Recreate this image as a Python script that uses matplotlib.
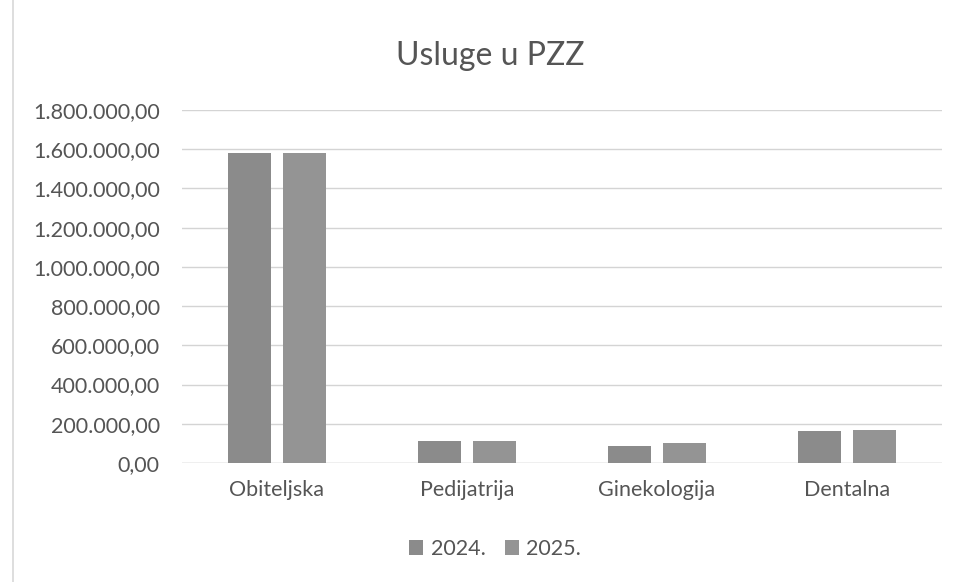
import matplotlib.pyplot as plt
import numpy as np

# Data
categories = ["Obiteljska", "Pedijatrija", "Ginekologija", "Dentalna"]
series_labels = ["2024.", "2025."]
values_2024 = [1580000, 110000, 87000, 165000]
values_2025 = [1580000, 114000, 100000, 170000]
y_ticks = [0, 200000, 400000, 600000, 800000, 1000000, 1200000, 1400000, 1600000, 1800000]

plt.rcParams['font.family'] = ['Lato', 'DejaVu Sans']
txt = '#555555'

fig = plt.figure(figsize=(9.62, 5.82), dpi=100)
ax = fig.add_axes([182 / 962, 1 - 463 / 582, 760 / 962, 353 / 582])

x = np.arange(len(categories))
w = 0.226
ax.bar(x - 0.145, values_2024, w, color='#8b8b8b', label=series_labels[0], zorder=3)
ax.bar(x + 0.145, values_2025, w, color='#949494', label=series_labels[1], zorder=3)

def fmt(v):
    return f"{int(v):,}".replace(",", ".") + ",00"

ax.set_ylim(0, 1800000)
ax.set_xlim(-0.5, 3.5)
ax.set_yticks(y_ticks)
ax.set_yticklabels([fmt(v) for v in y_ticks], fontsize=15.5, color=txt)
ax.set_xticks(x)
ax.set_xticklabels(categories, fontsize=15.5, color=txt)
ax.tick_params(axis='y', length=0, pad=16)
ax.tick_params(axis='x', length=0, pad=12)
ax.grid(axis='y', color='#d4d4d4', linewidth=1, zorder=0)
for s in ax.spines.values():
    s.set_visible(False)
ax.axhline(0, color='#d4d4d4', linewidth=1, zorder=2)

fig.text(0.51, 0.903, "Usluge u PZZ", ha='center', va='center', fontsize=23, color=txt)

ax.legend(loc='center', bbox_to_anchor=(0.412, -0.244), ncol=2, frameon=False,
          fontsize=15.5, handlelength=0.65, handleheight=0.65, columnspacing=0.9,
          handletextpad=0.35, labelcolor=txt)

# faint scan edge on the left
fig.add_artist(plt.Line2D([0.013, 0.013], [0.0, 1.0], color='#d8d8d8', linewidth=1.2,
                          transform=fig.transFigure))

fig.savefig("out.png", dpi=100)
